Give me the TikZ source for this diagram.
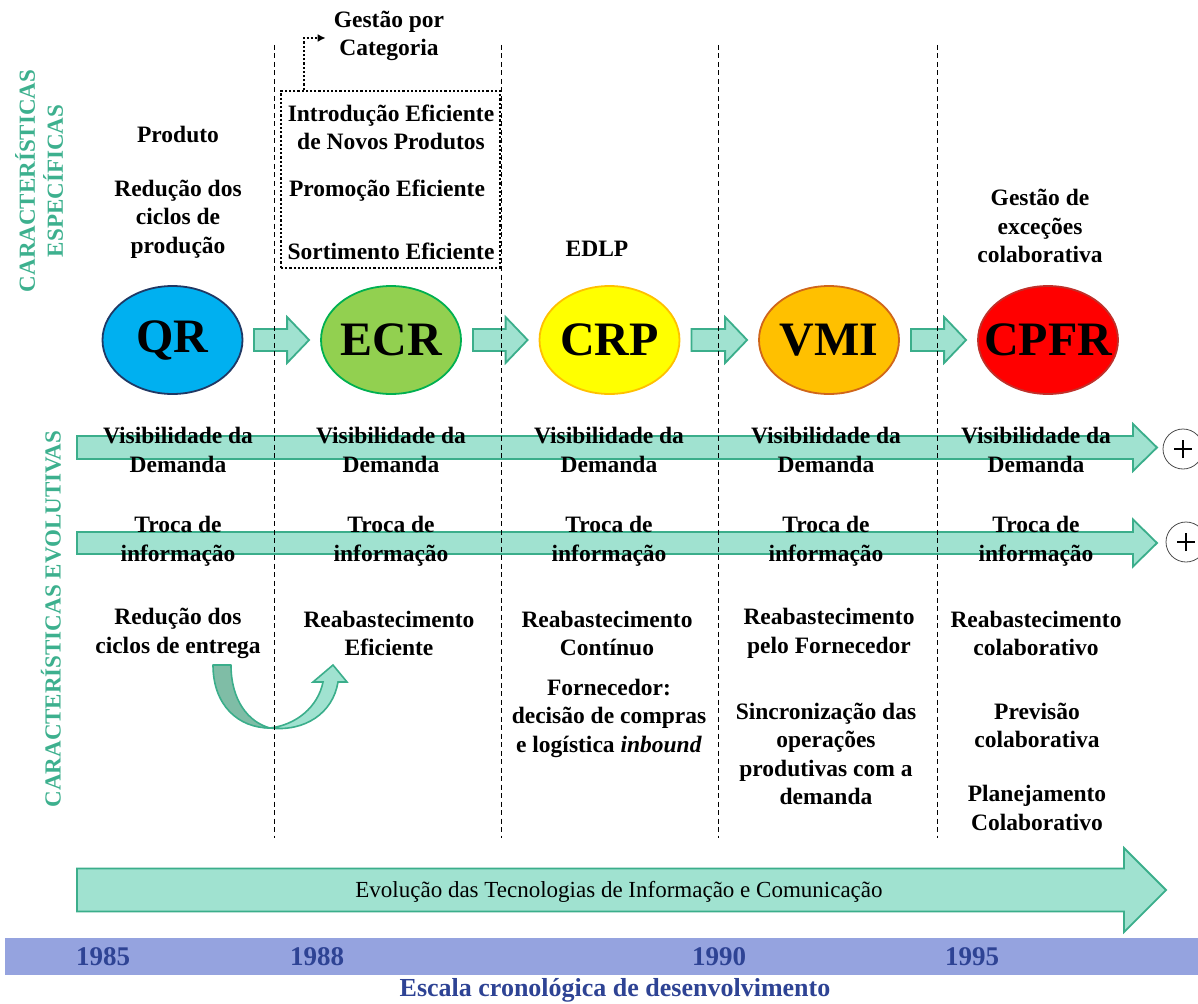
\documentclass[tikz,border=0pt]{standalone}
\usepackage{fontspec}
\setmainfont{Liberation Serif}
\usetikzlibrary{shapes.geometric,calc,arrows.meta}

\definecolor{mint}{HTML}{A0E2D0}
\definecolor{mintedge}{HTML}{3BAE8B}
\definecolor{mintdark}{HTML}{7FBDA6}
\definecolor{greentxt}{HTML}{3DB08E}
\definecolor{bandblue}{HTML}{95A3DF}
\definecolor{yearblue}{HTML}{2E4394}
\definecolor{qrfill}{HTML}{00B0F0}
\definecolor{qredge}{HTML}{203864}
\definecolor{ecrfill}{HTML}{92D050}
\definecolor{ecredge}{HTML}{00B050}
\definecolor{crpfill}{HTML}{FFFF00}
\definecolor{crpedge}{HTML}{FFC000}
\definecolor{vmifill}{HTML}{FFC000}
\definecolor{vmiedge}{HTML}{D0661A}
\definecolor{cpfrfill}{HTML}{FF0000}
\definecolor{cpfredge}{HTML}{C0302A}

\tikzset{
  lbl/.style={font=\fontsize{23.5}{28.5}\selectfont\bfseries, align=center, inner sep=0pt},
  greenlbl/.style={font=\fontsize{23}{28}\selectfont\bfseries, text=greentxt, align=center, inner sep=0pt},
  stage/.style={ellipse, draw, line width=1.8pt, minimum width=140, minimum height=108, inner sep=0pt},
  stagetxt/.style={font=\fontsize{48}{48}\selectfont\bfseries, text=black, inner sep=0pt},
  arrowbody/.style={fill=mint, draw=mintedge, line width=1.8pt, line join=miter},
  sep/.style={draw=black, line width=1pt, dash pattern=on 5pt off 3.5pt},
  dots/.style={draw=black, line width=2.2pt, dash pattern=on 2.2pt off 2pt},
  yr/.style={font=\fontsize{27}{27}\selectfont\bfseries, text=yearblue, inner sep=0pt},
  plusmark/.style={circle, draw=black!70, line width=0.8pt, minimum size=40, inner sep=0pt}
}

% block arrow from #1 to the tip #2: shaft half width, head half width, head length
\newcommand{\blockarrow}[5]{%
  \draw[arrowbody] let \p1=(#1), \p2=(#2) in
    (\x1,\y1+#3) -- (\x2-#5,\y1+#3) -- (\x2-#5,\y1+#4) -- (\x2,\y1)
    -- (\x2-#5,\y1-#4) -- (\x2-#5,\y1-#3) -- (\x1,\y1-#3) -- cycle;}

\begin{document}
\begin{tikzpicture}[x=1pt,y=-1pt]
\useasboundingbox (0,0) rectangle (1198,1003);

% side titles
\node[greenlbl, rotate=90] (espec) at (39,181) {CARACTERÍSTICAS\\ESPECÍFICAS};
\node[greenlbl, rotate=90] (evol) at (51,619) {CARACTERÍSTICAS EVOLUTIVAS};

% evolution rows
\coordinate (v0) at (77,447.5);  \coordinate (v1) at (1157,447.5);
\coordinate (t0) at (77,543);    \coordinate (t1) at (1157,543);
\coordinate (e0) at (77,890);    \coordinate (e1) at (1166,890);
\blockarrow{v0}{v1}{11.5pt}{23.5pt}{24pt}
\blockarrow{t0}{t1}{11pt}{23.5pt}{24pt}
\blockarrow{e0}{e1}{21.5pt}{42pt}{42pt}
\node[plusmark] (plusA) at (1183,449) {};
\node[plusmark] (plusB) at (1186,542) {};
\foreach \pm in {plusA,plusB}
  \draw[line width=1.3pt] ([xshift=-9]\pm.center) -- ([xshift=9]\pm.center)
                          ([yshift=-9]\pm.center) -- ([yshift=9]\pm.center);

% stages
\node[stage, fill=qrfill, draw=qredge] (QR) at (172.5,340) {};
\node[stage, fill=ecrfill, draw=ecredge] (ECR) at (391,340) {};
\node[stage, fill=crpfill, draw=crpedge] (CRP) at (609.5,340) {};
\node[stage, fill=vmifill, draw=vmiedge] (VMI) at (829,340) {};
\node[stage, fill=cpfrfill, draw=cpfredge] (CPFR) at (1048,340) {};
\node[stagetxt] at (QR) {QR};
\node[stagetxt] at (ECR) {ECR};
\node[stagetxt] at (CRP) {CRP};
\node[stagetxt] at (VMI) {VMI};
\node[stagetxt] at (CPFR) {CPFR};

\blockarrow{[xshift=10.5]QR.east}{[xshift=-11]ECR.west}{11pt}{23pt}{22pt}
\blockarrow{[xshift=11]ECR.east}{[xshift=-11]CRP.west}{11pt}{23pt}{22pt}
\blockarrow{[xshift=11]CRP.east}{[xshift=-11]VMI.west}{11pt}{23pt}{22pt}
\blockarrow{[xshift=11]VMI.east}{[xshift=-11]CPFR.west}{11pt}{23pt}{22pt}

% curved arrow between the first two periods
\draw[fill=mintdark, draw=mintedge, line width=1.6pt, line join=round]
  (213,665) .. controls (213,705) and (238,728) .. (270,728)
  .. controls (248,722) and (231,700) .. (231,665) -- cycle;
\draw[fill=mint, draw=mintedge, line width=1.6pt, line join=miter]
  (270,728) .. controls (296,725) and (318,707) .. (323,682)
  -- (313,682) -- (333,665) -- (347,682) -- (338,682)
  .. controls (333,713) and (305,732) .. (270,728) -- cycle;

% period separators
\foreach \xs in {274.5,501.5,718.5,937}
  \draw[sep] (\xs,45) -- (\xs,838);

% specific characteristics
\node[lbl] (prod) at (178,134) {Produto};
\node[lbl] (redprod) at (178,219) {Redução dos\\ciclos de\\produção};
\node[dots, minimum width=219, minimum height=177, inner sep=0pt] (catbox) at (390.5,179.5) {};
\node[lbl] (gestcat) at (389,36) {Gestão por\\Categoria};
\draw[dots, -{Latex[length=8pt,width=8pt]}]
  ([xshift=24]catbox.north west) |- ([xshift=-8,yshift=-2]gestcat.west);
\node[lbl] (intro) at (391,127.5) {Introdução Eficiente\\de Novos Produtos};
\node[lbl] (promo) at (387,191) {Promoção Eficiente};
\node[lbl] (sort) at (391,251) {Sortimento Eficiente};
\node[lbl] (edlp) at (597,249) {EDLP};
\node[lbl] (gestexc) at (1040,226) {Gestão de\\exceções\\colaborativa};

% evolutionary characteristics
\foreach \xc/\nm in {178/a,391/b,609/c,826/d,1036/e}{
  \node[lbl] (vis\nm) at (\xc,450) {Visibilidade da\\Demanda};
  \node[lbl] (troca\nm) at (\xc,541.5) {Troca de\\informação};
}
\node[lbl] (redent) at (178,633.5) {Redução dos\\ciclos de entrega};
\node[lbl] (reabE) at (389,633.5) {Reabastecimento\\Eficiente};
\node[lbl] (reabC) at (607,633.5) {Reabastecimento\\Contínuo};
\node[lbl] (forn) at (609,718) {Fornecedor:\\decisão de compras\\e logística \textit{inbound}};
\node[lbl] (reabF) at (829,633.5) {Reabastecimento\\pelo Fornecedor};
\node[lbl] (sinc) at (826,754) {Sincronização das\\operações\\produtivas com a\\demanda};
\node[lbl] (reabCol) at (1036,633.5) {Reabastecimento\\colaborativo};
\node[lbl] (prev) at (1037,725.5) {Previsão\\colaborativa};
\node[lbl] (plan) at (1037,808) {Planejamento\\Colaborativo};

% technology arrow text
\node[font=\fontsize{23}{23}\selectfont, inner sep=0pt] (tic) at (619,892) {Evolução das Tecnologias de Informação e Comunicação};

% chronological scale
\fill[bandblue] (5,938) rectangle (1198,975);
\node[yr] (y85) at (103,957) {1985};
\node[yr] (y88) at (317,957) {1988};
\node[yr] (y90) at (719,957) {1990};
\node[yr] (y95) at (972,957) {1995};
\node[font=\fontsize{26}{26}\selectfont\bfseries, text=yearblue, inner sep=0pt] (escala) at (615,990) {Escala cronológica de desenvolvimento};
\end{tikzpicture}
\end{document}
